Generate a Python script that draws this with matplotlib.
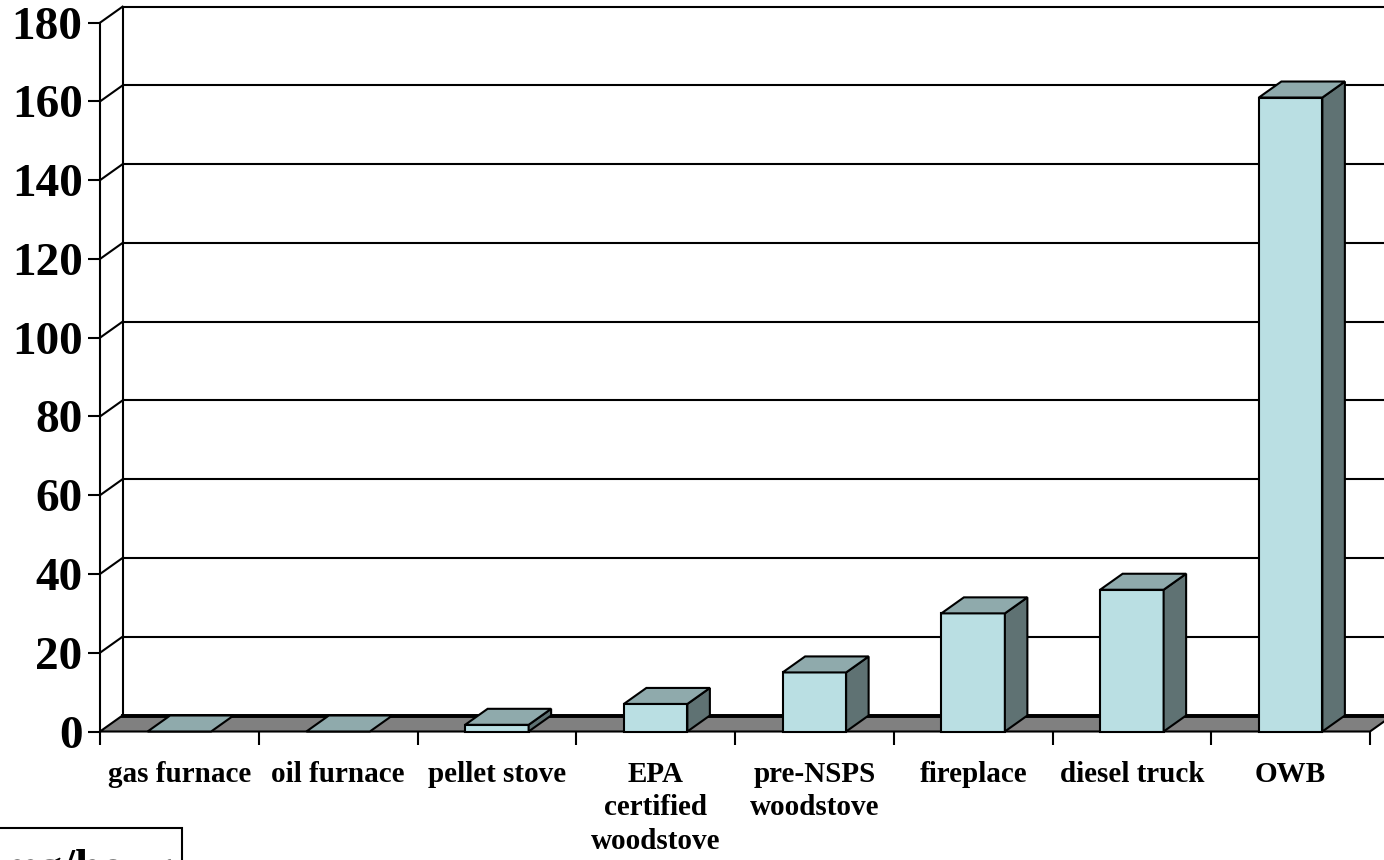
import matplotlib
matplotlib.use("Agg")
import matplotlib.pyplot as plt
from matplotlib.patches import Polygon, Rectangle

# Emission rates by heating source
categories = ["gas furnace", "oil furnace", "pellet stove", "EPA\ncertified\nwoodstove",
              "pre-NSPS\nwoodstove", "fireplace", "diesel truck", "OWB"]
values = [0, 0, 1.7, 7, 15, 30, 36, 161]
y_ticks = [0, 20, 40, 60, 80, 100, 120, 140, 160, 180]
unit_label = "mg/hour"

FRONT = "#badfe3"
TOP = "#8faaac"
SIDE = "#5f7273"
FLOOR = "#808080"
FONT = "Liberation Serif"

W, H = 1384, 860
fig = plt.figure(figsize=(W / 100, H / 100), dpi=100)
ax_l, ax_r, ax_b, ax_t = 100, 1370, 731.5, 22.7
ax = fig.add_axes([ax_l / W, 1 - ax_b / H, (ax_r - ax_l) / W, (ax_b - ax_t) / H])
n = len(categories)
xmin, xmax = -0.5, n - 0.5
ymin, ymax = 0, 180
ax.set_xlim(xmin, xmax)
ax.set_ylim(ymin, ymax)

# depth of the 3-D box expressed in data units
depth_px = (22.5, 16.0)
ddx = depth_px[0] * (xmax - xmin) / (ax_r - ax_l)
ddy = depth_px[1] * (ymax - ymin) / (ax_b - ax_t)

lw = 1.5
# back wall gridlines and side-wall diagonals
for v in y_ticks[1:]:
    ax.plot([xmin + ddx, xmax + ddx + 1], [v + ddy, v + ddy], color="black", lw=lw,
            clip_on=False, zorder=1, solid_capstyle="butt")
    ax.plot([xmin, xmin + ddx], [v, v + ddy], color="black", lw=lw, clip_on=False, zorder=1)
# back wall left edge
ax.plot([xmin + ddx, xmin + ddx], [ddy, ymax + ddy], color="black", lw=lw, clip_on=False, zorder=1)

# floor
floor = Polygon([(xmin, 0), (xmax, 0), (xmax + ddx, ddy), (xmin + ddx, ddy)], closed=True,
                facecolor=FLOOR, edgecolor="black", lw=lw, clip_on=False, zorder=2)
ax.add_patch(floor)
ax.plot([xmin + ddx, xmax + ddx], [ddy, ddy], color="black", lw=2.8, clip_on=False, zorder=2)

# 3-D bars
bw = 0.40
for i, v in enumerate(values):
    x0, x1 = i - bw / 2, i + bw / 2
    kw = dict(closed=True, edgecolor="black", lw=lw, clip_on=False, zorder=3, joinstyle="miter")
    if v > 0:
        ax.add_patch(Polygon([(x0, 0), (x1, 0), (x1, v), (x0, v)], facecolor=FRONT, **kw))
        ax.add_patch(Polygon([(x1, 0), (x1 + ddx, ddy), (x1 + ddx, v + ddy), (x1, v)],
                             facecolor=SIDE, **kw))
    ax.add_patch(Polygon([(x0, v), (x1, v), (x1 + ddx, v + ddy), (x0 + ddx, v + ddy)],
                         facecolor=TOP, **kw))

# axes and ticks
for s in ("top", "right", "bottom"):
    ax.spines[s].set_visible(False)
ax.spines["left"].set_linewidth(lw)
ax.spines["left"].set_zorder(4)
ax.set_yticks(y_ticks)
ax.set_yticklabels([str(t) for t in y_ticks], fontfamily=FONT, fontweight="bold", fontsize=34)
ax.tick_params(axis="y", direction="out", length=8.6, width=lw, pad=4)
ax.set_xticks([i - 0.5 for i in range(n + 1)])
ax.set_xticklabels([])
ax.tick_params(axis="x", which="major", direction="out", length=9.5, width=lw)
ax.set_xticks(range(n), categories, minor=True)
ax.tick_params(axis="x", which="minor", length=0, pad=21)
for lab in ax.get_xticklabels(minor=True):
    lab.set_fontfamily(FONT)
    lab.set_fontweight("bold")
    lab.set_fontsize(21)
    lab.set_linespacing(1.32)
ax.patch.set_visible(False)

# unit box in the lower-left corner
fig.patches.append(Rectangle((-5 / W, -0.1), 187 / W, 0.1 + 1 - 828 / H,
                             transform=fig.transFigure, facecolor="white",
                             edgecolor="black", lw=lw))
fig.text(86 / W, 1 - 881 / H, unit_label, ha="center", va="baseline",
         fontfamily=FONT, fontweight="bold", fontsize=34)

fig.savefig("out.png", dpi=100)
